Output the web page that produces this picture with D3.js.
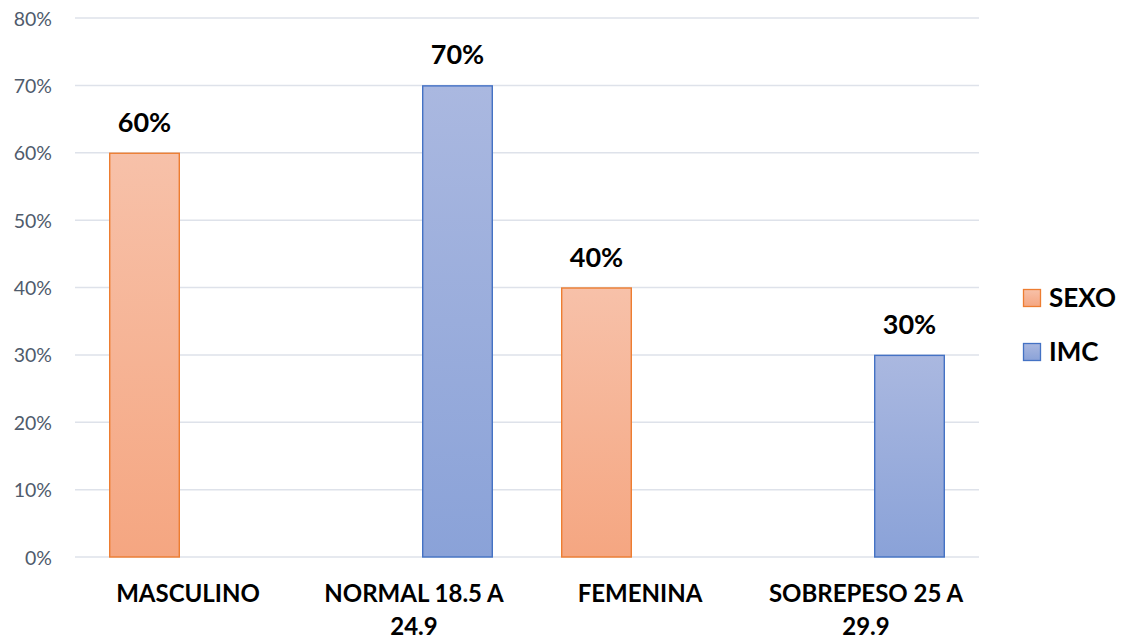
<!DOCTYPE html>
<html>
<head>
<meta charset="utf-8">
<script src="https://cdn.jsdelivr.net/npm/d3@7"></script>
<style>
  html, body { margin: 0; padding: 0; background: #fff; }
  svg { display: block; font-family: Lato, "Open Sans", sans-serif; }
</style>
</head>
<body>
<svg id="chart" width="1122" height="641"></svg>
<script>
// Categories and series values (percent)
const categories = ["MASCULINO", "NORMAL 18.5 A 24.9", "FEMENINA", "SOBREPESO 25 A 29.9"];
const seriesNames = ["SEXO", "IMC"];
const sexoValues = [60, null, 40, null];
const imcValues = [null, 70, null, 30];
const yTicks = [0, 10, 20, 30, 40, 50, 60, 70, 80];

const svg = d3.select("#chart");
const margin = { left: 75, right: 143, top: 18, bottom: 84 };
const width = 1122, height = 641;

const x0 = d3.scaleBand().domain(categories)
  .range([margin.left, width - margin.right]).paddingInner(0).paddingOuter(0);
const x1 = d3.scaleBand().domain(seriesNames)
  .range([x0.bandwidth() / 2 - 79, x0.bandwidth() / 2 + 79]).paddingInner(0.184);
const y = d3.scaleLinear().domain([0, 80]).range([height - margin.bottom, margin.top]);

const colors = {
  SEXO: { top: "#F7C1A9", bottom: "#F5A681", stroke: "#ED7D31" },
  IMC: { top: "#AAB8E0", bottom: "#8AA2D8", stroke: "#4472C4" }
};

// Vertical gradients for bars and legend keys
const defs = svg.append("defs");
seriesNames.forEach(s => {
  const g = defs.append("linearGradient").attr("id", "grad-" + s)
    .attr("x1", 0).attr("y1", 0).attr("x2", 0).attr("y2", 1);
  g.append("stop").attr("offset", "0%").attr("stop-color", colors[s].top);
  g.append("stop").attr("offset", "100%").attr("stop-color", colors[s].bottom);
});

// Gridlines
svg.append("g").selectAll("line").data(yTicks).join("line")
  .attr("x1", margin.left).attr("x2", width - margin.right)
  .attr("y1", d => y(d)).attr("y2", d => y(d))
  .attr("stroke", "#DEE2EA").attr("stroke-width", 1.5);

// Y axis labels
const yAxis = d3.axisLeft(y).tickValues(yTicks).tickFormat(d => d + "%").tickSize(0).tickPadding(23);
const yg = svg.append("g").attr("transform", `translate(${margin.left},0)`).call(yAxis);
yg.select(".domain").remove();
yg.selectAll("text").attr("fill", "#4F5B6C").style("font-size", "19.5px")
  .style("font-family", "Lato, sans-serif").attr("dy", "0.36em");

// Bars
const rows = categories.map((c, i) => ({ cat: c, SEXO: sexoValues[i], IMC: imcValues[i] }));
const groups = svg.append("g").selectAll("g").data(rows).join("g")
  .attr("transform", d => `translate(${x0(d.cat)},0)`);

const barData = d => seriesNames.filter(s => d[s] != null).map(s => ({ key: s, value: d[s] }));

groups.selectAll("rect").data(barData).join("rect")
  .attr("x", d => x1(d.key) + 0.7)
  .attr("width", x1.bandwidth() - 1.4)
  .attr("y", d => y(d.value) + 0.5)
  .attr("height", d => y(0) - y(d.value) - 0.5)
  .attr("fill", d => `url(#grad-${d.key})`)
  .attr("stroke", d => colors[d.key].stroke)
  .attr("stroke-width", 1.4);

// Value labels
groups.selectAll("text.val").data(barData).join("text")
  .attr("class", "val")
  .attr("x", d => x1(d.key) + x1.bandwidth() / 2)
  .attr("y", d => y(d.value) - 21)
  .attr("text-anchor", "middle")
  .style("font-size", "27px").style("font-weight", "bold").attr("fill", "#000")
  .text(d => d.value + "%");

// Category labels with wrapping
const catG = svg.append("g");
categories.forEach(c => {
  const cx = x0(c) + x0.bandwidth() / 2;
  const t = catG.append("text")
    .attr("x", cx)
    .attr("y", 602)
    .attr("text-anchor", "middle")
    .style("font-size", "24px").style("font-weight", "bold").attr("fill", "#000");
  const words = c.split(" ");
  let line = [];
  let tspan = t.append("tspan").attr("x", cx).attr("dy", 0);
  words.forEach(w => {
    line.push(w);
    tspan.text(line.join(" "));
    if (tspan.node().getComputedTextLength() > 205 && line.length > 1) {
      line.pop();
      tspan.text(line.join(" "));
      line = [w];
      tspan = t.append("tspan").attr("x", cx).attr("dy", 33).text(w);
    }
  });
});

// Legend
const legend = svg.append("g");
seriesNames.forEach((s, i) => {
  const ly = 298 + i * 54;
  legend.append("rect")
    .attr("x", 1023.5).attr("y", ly - 8.5).attr("width", 17).attr("height", 17)
    .attr("fill", `url(#grad-${s})`).attr("stroke", colors[s].stroke).attr("stroke-width", 1.3);
  legend.append("text")
    .attr("x", 1049).attr("y", ly).attr("dy", "0.36em")
    .style("font-size", "26px").style("font-weight", "bold").attr("fill", "#000")
    .text(s);
});
</script>
</body>
</html>
